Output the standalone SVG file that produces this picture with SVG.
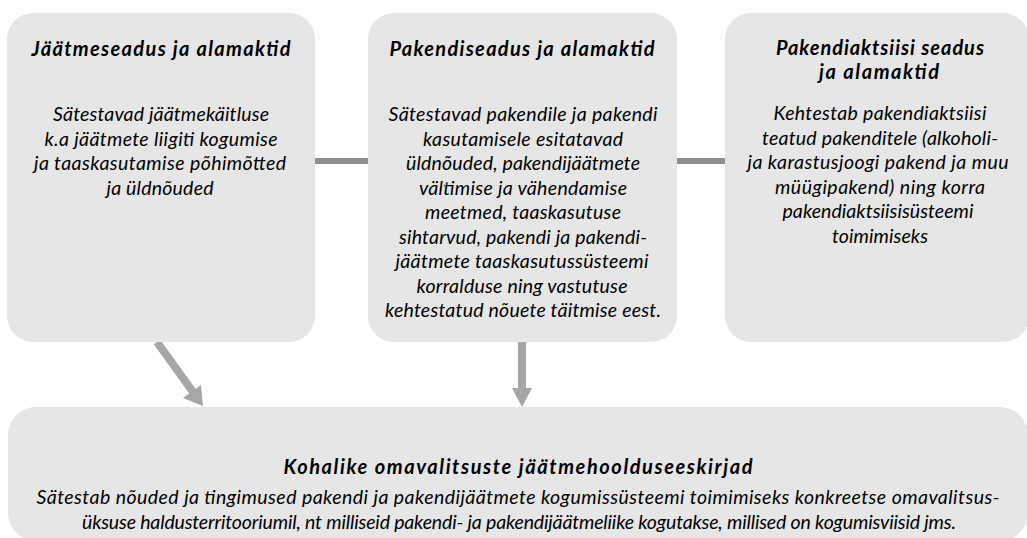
<svg xmlns="http://www.w3.org/2000/svg" width="1027" height="538" viewBox="0 0 1027 538">
<style>
.box{fill:#e6e6e6}
.t{font-family:Lato,"Open Sans",sans-serif;font-style:italic;font-weight:bold;font-size:20px;fill:#000;text-anchor:middle}
.b{font-family:Lato,"Open Sans",sans-serif;font-style:italic;font-size:19.5px;fill:#000;text-anchor:middle}
.line{stroke:#8e8e8e;stroke-width:6;fill:none}
.arr{stroke:#a6a6a6;stroke-width:8;fill:none}
.head{fill:#a6a6a6}
</style>
<g id="connectors">
<line class="line" x1="315" y1="161" x2="368" y2="161"/>
<line class="line" x1="677" y1="161" x2="725" y2="161"/>
<line class="arr" x1="157" y1="342" x2="193" y2="392"/>
<polygon class="head" points="203,406 183,398 201,385"/>
<line class="arr" x1="522" y1="342" x2="522" y2="390"/>
<polygon class="head" points="512,388 532,388 522,407"/>
</g>
<g id="node1">
<rect class="box" x="7" y="13" width="308" height="329" rx="26"/>
<text class="t" x="161" y="56" textLength="259">Jäätmeseadus ja alamaktid</text>
<text class="b" x="161" y="121" textLength="216">Sätestavad jäätmekäitluse</text>
<text class="b" x="161" y="145.5" textLength="233">k.a jäätmete liigiti kogumise</text>
<text class="b" x="160" y="170" textLength="252">ja taaskasutamise põhimõtted</text>
<text class="b" x="160" y="194.5" textLength="107">ja üldnõuded</text>
</g>
<g id="node2">
<rect class="box" x="368" y="13" width="309" height="329" rx="26"/>
<text class="t" x="522" y="56" textLength="265">Pakendiseadus ja alamaktid</text>
<text class="b" x="523" y="121" textLength="269">Sätestavad pakendile ja pakendi</text>
<text class="b" x="523" y="145.5" textLength="200">kasutamisele esitatavad</text>
<text class="b" x="523" y="170" textLength="234">üldnõuded, pakendijäätmete</text>
<text class="b" x="523" y="194.5" textLength="208">vältimise ja vähendamise</text>
<text class="b" x="523" y="219" textLength="196">meetmed, taaskasutuse</text>
<text class="b" x="523" y="243.5" textLength="248">sihtarvud, pakendi ja pakendi-</text>
<text class="b" x="522" y="268" textLength="253">jäätmete taaskasutussüsteemi</text>
<text class="b" x="522" y="292.5" textLength="211">korralduse ning vastutuse</text>
<text class="b" x="523" y="317" textLength="276">kehtestatud nõuete täitmise eest.</text>
</g>
<g id="node3">
<rect class="box" x="725" y="13" width="304" height="329" rx="26"/>
<text class="t" x="880" y="55" textLength="208">Pakendiaktsiisi seadus</text>
<text class="t" x="879" y="79" textLength="120">ja alamaktid</text>
<text class="b" x="880" y="120" textLength="213">Kehtestab pakendiaktsiisi</text>
<text class="b" x="880" y="144.5" textLength="236">teatud pakenditele (alkoholi-</text>
<text class="b" x="878" y="169" textLength="261">ja karastusjoogi pakend ja muu</text>
<text class="b" x="880" y="193.5" textLength="210">müügipakend) ning korra</text>
<text class="b" x="878" y="218" textLength="191">pakendiaktsiisisüsteemi</text>
<text class="b" x="880" y="242.5" textLength="96">toimimiseks</text>
</g>
<g id="node4">
<rect class="box" x="8" y="407" width="1020" height="134" rx="28"/>
<text class="t" x="518" y="474" textLength="469">Kohalike omavalitsuste jäätmehoolduseeskirjad</text>
<text class="b" x="518" y="504" textLength="963">Sätestab nõuded ja tingimused pakendi ja pakendijäätmete kogumissüsteemi toimimiseks konkreetse omavalitsus-</text>
<text class="b" x="519" y="529" textLength="874">üksuse haldusterritooriumil, nt milliseid pakendi- ja pakendijäätmeliike kogutakse, millised on kogumisviisid jms.</text>
</g>
</svg>
